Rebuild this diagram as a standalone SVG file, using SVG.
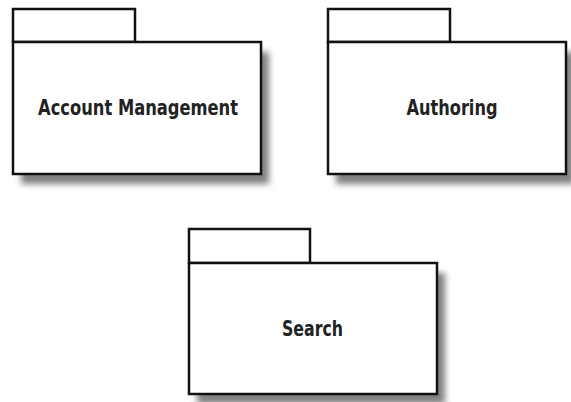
<svg xmlns="http://www.w3.org/2000/svg" width="571" height="402" viewBox="0 0 571 402">
<defs>
<style>
.pk{fill:#fff;stroke:#111;stroke-width:2.5}
.lbl{font-family:"Liberation Sans Narrow","DejaVu Sans Condensed","Liberation Sans",sans-serif;font-stretch:condensed;font-weight:bold;font-size:22px;fill:#222;text-anchor:middle}
</style>
<filter id="sh" x="-10%" y="-10%" width="130%" height="130%">
<feGaussianBlur stdDeviation="3"/>
</filter>
</defs>
<rect width="571" height="402" fill="#fff"/>
<g id="account-management">
<rect x="21" y="52" width="248" height="132" fill="#808080" filter="url(#sh)"/>
<rect class="pk" x="13" y="9" width="122" height="33"/>
<rect class="pk" x="13" y="42" width="248" height="132"/>
<text class="lbl" x="138" y="115" textLength="200" lengthAdjust="spacingAndGlyphs">Account Management</text>
</g>
<g id="authoring">
<rect x="336" y="52" width="238" height="132" fill="#808080" filter="url(#sh)"/>
<rect class="pk" x="328" y="9" width="122" height="33"/>
<rect class="pk" x="328" y="42" width="238" height="132"/>
<text class="lbl" x="452" y="115" textLength="91" lengthAdjust="spacingAndGlyphs">Authoring</text>
</g>
<g id="search">
<rect x="197" y="273" width="248" height="131" fill="#808080" filter="url(#sh)"/>
<rect class="pk" x="189" y="229" width="121" height="34"/>
<rect class="pk" x="189" y="263" width="248" height="131"/>
<text class="lbl" x="312.5" y="336" textLength="61" lengthAdjust="spacingAndGlyphs">Search</text>
</g>
<g id="connectors"/>
</svg>
